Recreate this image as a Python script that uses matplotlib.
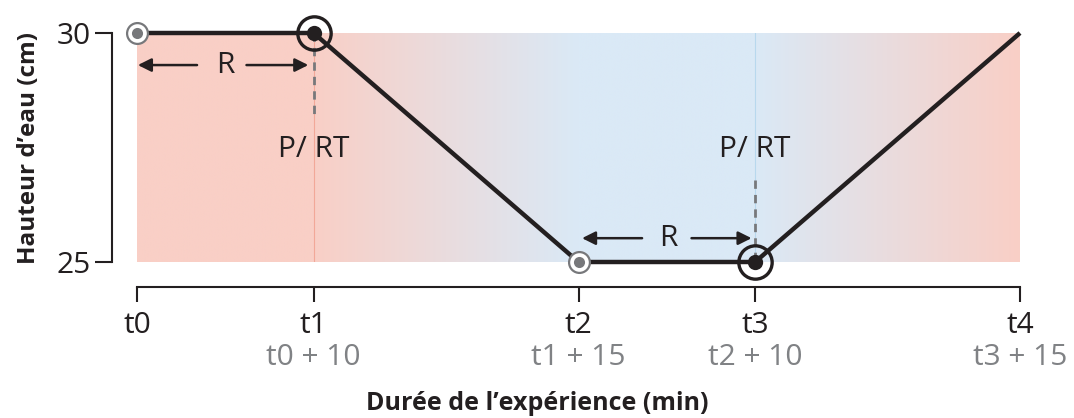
import matplotlib
matplotlib.use("Agg")
import matplotlib.pyplot as plt
import matplotlib.colors as mcolors
import numpy as np

plt.rcParams['font.family'] = ['Open Sans', 'DejaVu Sans']

# data
times = [0, 10, 25, 35, 50]
heights = [30, 30, 25, 25, 30]
tick_names = ["t0", "t1", "t2", "t3", "t4"]
tick_subs = ["", "t0 + 10", "t1 + 15", "t2 + 10", "t3 + 15"]
start_points = [(0, 30), (25, 25)]      # grey markers
switch_points = [(10, 30), (35, 25)]    # black markers
bg_stops = [0, 10, 25, 35, 50]
bg_colors = ["#f9cfc6", "#f9cfc6", "#dae9f6", "#dae9f6", "#f9cfc6"]

DARK = "#231f20"
GREY = "#77787b"
FS = 21.5

fig = plt.figure(figsize=(10.74, 4.18), dpi=100)
ax = fig.add_axes([137 / 1074, 1 - 262 / 418, 883 / 1074, 229 / 418])

# background gradient
xs = np.linspace(0, 50, 1200)
rgb = np.array([mcolors.to_rgb(c) for c in bg_colors])
grad = np.stack([np.interp(xs, bg_stops, rgb[:, k]) for k in range(3)], axis=-1)
ax.imshow(grad[np.newaxis, :, :], extent=[0, 50, 25, 30], aspect="auto",
          interpolation="bilinear", zorder=0)
ax.axvline(10, color="#f2a898", lw=0.8, zorder=1)
ax.axvline(35, color="#b8d8ee", lw=0.8, zorder=1)

# dashed markers of P/RT
ax.plot([10, 10], [30, 28.15], ls=(0, (3, 2.2)), color=GREY, lw=2, zorder=2)
ax.plot([35, 35], [26.8, 25], ls=(0, (3, 2.2)), color=GREY, lw=2, zorder=2)
ax.text(10, 27.45, "P/ RT", ha="center", va="center", fontsize=FS, color=DARK)
ax.text(35, 27.45, "P/ RT", ha="center", va="center", fontsize=FS, color=DARK)

# main line
ax.plot(times, heights, color=DARK, lw=3.2, solid_capstyle="butt", zorder=3, clip_on=False)

for x, y in start_points:
    ax.plot(x, y, "o", ms=15, mfc="white", mec=GREY, mew=1.6, zorder=4, clip_on=False)
    ax.plot(x, y, "o", ms=8, mfc=GREY, mec="none", zorder=5, clip_on=False)
for x, y in switch_points:
    ax.plot(x, y, "o", ms=24, mfc="none", mec=DARK, mew=2.4, zorder=4, clip_on=False)
    ax.plot(x, y, "o", ms=11, mfc=DARK, mec="none", zorder=5, clip_on=False)

# R arrows
arrow = dict(arrowstyle="-|>", color=DARK, lw=1.8, mutation_scale=20, shrinkA=0, shrinkB=0)
ax.annotate("", xy=(0.05, 29.3), xytext=(3.4, 29.3), arrowprops=arrow)
ax.annotate("", xy=(9.7, 29.3), xytext=(6.2, 29.3), arrowprops=arrow)
ax.text(5.0, 29.3, "R", ha="center", va="center", fontsize=FS, color=DARK)
ax.annotate("", xy=(25.2, 25.52), xytext=(28.6, 25.52), arrowprops=arrow)
ax.annotate("", xy=(34.8, 25.52), xytext=(31.4, 25.52), arrowprops=arrow)
ax.text(30.1, 25.52, "R", ha="center", va="center", fontsize=FS, color=DARK)

ax.set_xlim(0, 50)
ax.set_ylim(25, 30)

for s in ["top", "right"]:
    ax.spines[s].set_visible(False)
for s in ["left", "bottom"]:
    ax.spines[s].set_position(("outward", 18))
    ax.spines[s].set_color(DARK)
    ax.spines[s].set_linewidth(1.5)
ax.spines["left"].set_bounds(25, 30)
ax.spines["bottom"].set_bounds(0, 50)

ax.set_yticks([25, 30])
ax.set_yticklabels(["25", "30"])
ax.set_xticks(times)
ax.set_xticklabels(tick_names)
ax.tick_params(axis="y", length=12, width=1.5, color=DARK, labelsize=FS, labelcolor=DARK, pad=3)
ax.tick_params(axis="x", length=11, width=1.5, color=DARK, labelsize=FS, labelcolor=DARK, pad=6)

trans = ax.get_xaxis_transform()
for x, sub in zip(times, tick_subs):
    if sub:
        ax.text(x, -0.415, sub, transform=trans, ha="center", va="center",
                fontsize=FS, color="#808285")

ax.set_ylabel("Hauteur d\u2019eau (cm)", fontsize=17.5, fontweight="bold", color=DARK)
ax.yaxis.set_label_coords(-0.109, 0.5)
fig.text(0.5, 1 - 404 / 418, "Dur\u00e9e de l\u2019exp\u00e9rience (min)", ha="center", va="center",
         fontsize=18, fontweight="bold", color=DARK)

fig.savefig("out.png", dpi=100)
